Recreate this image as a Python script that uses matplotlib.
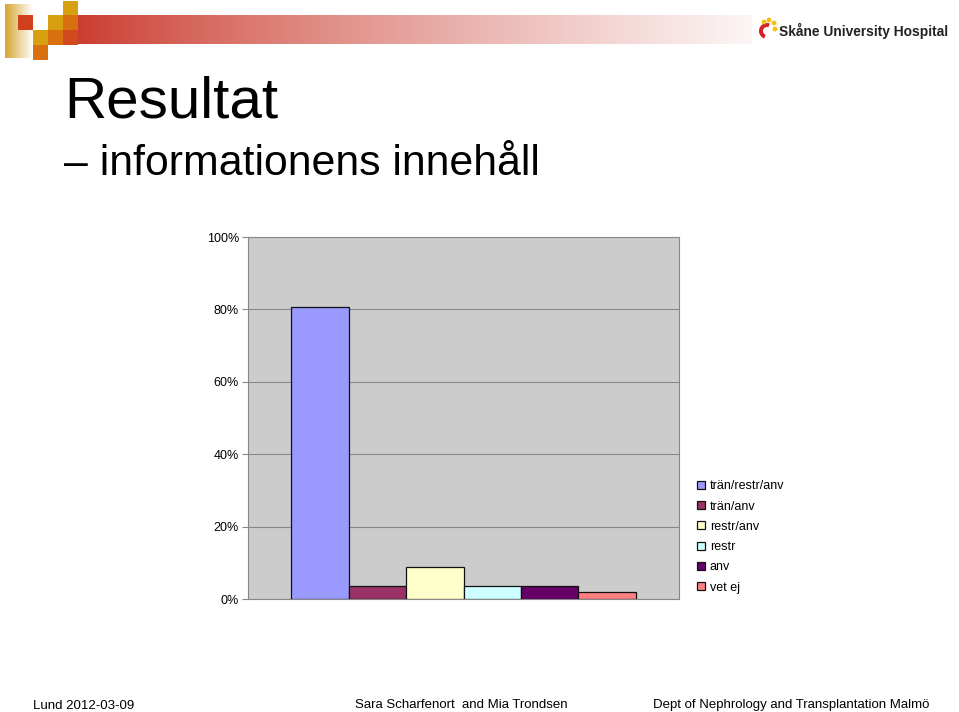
import numpy as np
import matplotlib
matplotlib.use("Agg")
import matplotlib.pyplot as plt
from matplotlib.patches import Rectangle, Circle, Wedge

plt.rcParams['font.family'] = ['Liberation Sans', 'DejaVu Sans']

# data
categories = ["trän/restr/anv", "trän/anv", "restr/anv", "restr", "anv", "vet ej"]
values = [80.7, 3.5, 8.8, 3.5, 3.5, 1.8]
colors = ["#9999FF", "#993366", "#FFFFCC", "#CCFFFF", "#660066", "#FF8080"]
yticks = [0, 20, 40, 60, 80, 100]
ytick_labels = ["0%", "20%", "40%", "60%", "80%", "100%"]

W, H = 959, 712
fig = plt.figure(figsize=(W / 100, H / 100), dpi=100)

# background layer in pixel coords for the slide decoration
bg = fig.add_axes([0, 0, 1, 1])
bg.set_xlim(0, W)
bg.set_ylim(H, 0)
bg.axis("off")

# red -> white gradient band
t = np.linspace(0, 1, 400) ** 0.8
left = np.array([200, 52, 38]) / 255
right = np.array([252, 246, 246]) / 255
grad = (left[None, :] * (1 - t[:, None]) + right[None, :] * t[:, None])[None, :, :]
bg.imshow(grad, extent=[63, 752, 44, 15], aspect="auto", interpolation="bilinear")

# golden vertical strip fading right
t2 = np.linspace(0, 1, 100)
gold = np.array([215, 165, 50]) / 255
white = np.array([1, 1, 1])
grad2 = (gold[None, :] * (1 - t2[:, None]) + white[None, :] * t2[:, None])[None, :, :]
bg.imshow(grad2, extent=[5, 33, 58, 4], aspect="auto", interpolation="bilinear")

# squares of the logo
squares = [
    (18, 15, "#d0401c"),
    (63, 1, "#d8a010"),
    (48, 15, "#d8a010"),
    (63, 15, "#d87010"),
    (33, 30, "#d8a010"),
    (48, 30, "#d87010"),
    (63, 30, "#d04a1c"),
    (33, 45, "#d87010"),
]
for x, y, c in squares:
    bg.add_patch(Rectangle((x, y), 15, 15, color=c, lw=0))

# hospital logo (icon + name)
bg.add_patch(Wedge((767, 31), 8, 110, 290, width=4, color="#d8202a", lw=0))
for cx, cy in [(764, 22), (769, 20), (774, 23), (775, 29)]:
    bg.add_patch(Circle((cx, cy), 2.4, color="#f2c012", lw=0))
bg.text(779, 31, "Skåne University Hospital", fontsize=9.9, fontweight="bold",
        color="#222222", va="center", ha="left")

# titles
bg.text(64, 118, "Resultat", fontsize=42, va="baseline", ha="left")
bg.text(64, 175, "– informationens innehåll", fontsize=30.8, va="baseline", ha="left")

# footer
bg.text(33, 709, "Lund 2012-03-09", fontsize=9.5, va="baseline", ha="left")
bg.text(355, 708, "Sara Scharfenort  and Mia Trondsen", fontsize=9.5, va="baseline", ha="left")
bg.text(653, 708, "Dept of Nephrology and Transplantation Malmö", fontsize=9.5,
        va="baseline", ha="left")

# chart
ax = fig.add_axes([248 / W, (H - 599) / H, 431 / W, 362 / H])
ax.set_facecolor("#cccccc")
n = len(values)
w = 1 / (n + 1.5)
xs = (np.arange(n) - (n - 1) / 2) * w
for xi, v, c, lab in zip(xs, values, colors, categories):
    ax.bar(xi, v, width=w, color=c, edgecolor="#111111", linewidth=0.9, label=lab, zorder=3)
ax.set_xlim(-0.5, 0.5)
ax.set_ylim(0, 100)
ax.set_yticks(yticks)
ax.set_yticklabels(ytick_labels)
ax.set_xticks([])
ax.grid(axis="y", color="#888888", linewidth=0.8, zorder=1)
ax.tick_params(axis="y", length=4, width=0.8, color="#888888", pad=2.5, labelsize=9)
for s in ax.spines.values():
    s.set_color("#888888")
    s.set_linewidth(0.8)

handles, labels = ax.get_legend_handles_labels()
fig.legend(handles, labels, loc="upper left", bbox_to_anchor=(691 / W, 1 - 474 / H),
           frameon=False, fontsize=9, handlelength=0.6, handleheight=0.6,
           handletextpad=0.4, labelspacing=0.66, borderpad=0)

fig.savefig("out.png", dpi=100)
